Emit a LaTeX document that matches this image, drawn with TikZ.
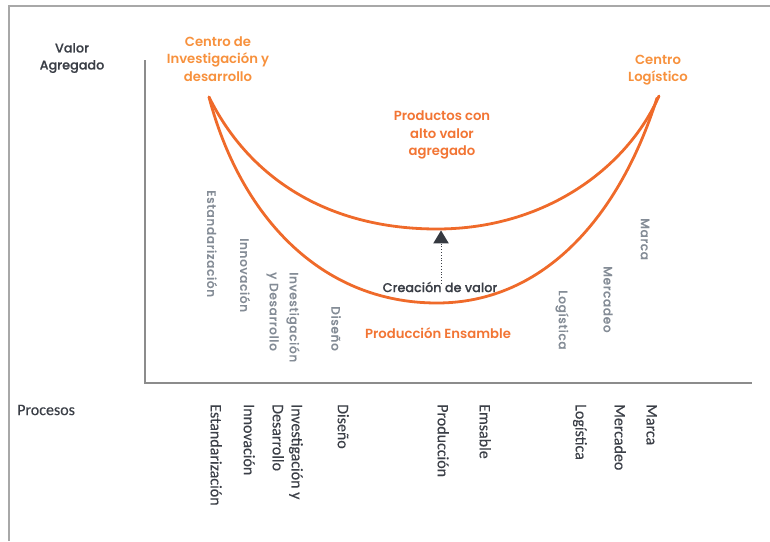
\documentclass[tikz,border=0pt]{standalone}
\usepackage{fontspec}
\setmainfont{Poppins}[UprightFont={* Medium}, BoldFont={* SemiBold}]
\newfontfamily\calib{Carlito}
\usetikzlibrary{shapes.geometric}
\definecolor{curveor}{HTML}{EF6A2A}
\definecolor{lightor}{HTML}{F7913D}
\definecolor{midor}{HTML}{F27534}
\definecolor{greylab}{HTML}{848C96}
\definecolor{darktxt}{HTML}{3B3F47}
\definecolor{framegrey}{HTML}{A8A8A8}
\definecolor{axisgrey}{HTML}{8C8C8C}
\tikzset{
  orlab/.style={font=\fontsize{13.2}{17.5}\selectfont\bfseries, text=lightor, align=center, inner sep=0pt},
  midlab/.style={font=\fontsize{13.2}{17.5}\selectfont\bfseries, text=midor, align=center, inner sep=0pt},
  axlab/.style={font=\fontsize{12.8}{17}\selectfont\addfontfeature{FakeBold=0.3}, text=darktxt, align=center, inner sep=0pt},
  glab/.style={font=\fontsize{12.2}{20}\selectfont\addfontfeature{LetterSpace=5,FakeBold=0.5}, text=greylab, rotate=-90, anchor=west, align=left, inner sep=0pt},
  blab/.style={font=\calib\fontsize{16}{19}\selectfont\addfontfeature{FakeBold=0.3}, text=darktxt, rotate=-90, anchor=north west, align=left, inner sep=0pt},
  curve/.style={draw=curveor, line width=2.8pt, line cap=round},
  framel/.style={draw=framegrey, line width=2pt},
  axisl/.style={draw=axisgrey, line width=1.5pt},
}
\begin{document}
\begin{tikzpicture}[x=1pt,y=-1pt]
\useasboundingbox (0,0) rectangle (770,541);
% frame
\coordinate (fbl) at (9,541);
\coordinate (ftl) at (9,5.5);
\coordinate (ftr) at (770,5.5);
\draw[framel] (fbl) -- (ftl) -- (ftr);
% axes
\coordinate (ytop) at (145,60);
\coordinate (orig) at (145,383);
\coordinate (xend) at (752,383);
\draw[axisl] (ytop) -- (orig) -- (xend);
% curve points
\coordinate (L) at (209,97);
\coordinate (R) at (659,96);
\coordinate (Rl) at (657,98);
\coordinate (umin) at (437,229);
\coordinate (lmin) at (437,303);
\draw[curve] (L) .. controls (250,180) and (330,229) .. (umin)
                 .. controls (545,229) and (627,168) .. (R);
\draw[curve] (L) .. controls (240,215) and (320,303) .. (lmin)
                 .. controls (545,303) and (620,215) .. (Rl);
% top labels
\node[axlab] (valor) at (72,58) {Valor\\Agregado};
\node[orlab] (cid) at (218,59) {Centro de\\Investigación y\\desarrollo};
\node[orlab] (clog) at (658,70) {Centro\\Logístico};
\node[midlab] (prod) at (442,135) {Productos con\\alto valor\\agregado};
\node[axlab, font=\fontsize{12.8}{14}\selectfont\addfontfeature{FakeBold=0.3}] (crea) at (440,287) {Creación de valor};
\node[midlab] (pens) at (438,333) {Producción Ensamble};
% arrow
\node[isosceles triangle, shape border rotate=90, fill=darktxt!90!black, draw=none,
      isosceles triangle apex angle=62, minimum height=13pt, inner sep=0pt] (tri) at (441,239) {};
\draw[dotted, line width=0.8pt, darktxt] ([yshift=-2pt]tri.south |- crea.north) -- ([yshift=2pt]tri.south);
% grey labels in plot
\node[glab] (g1) at (212,190) {Estandarización};
\node[glab] (g2) at (245,238) {Innovación};
\node[glab] (g3) at (283,272) {Investigación\\y Desarrollo};
\node[glab] (g4) at (336,306) {Diseño};
\node[glab] (g5) at (562,290) {Logística};
\node[glab] (g6) at (608,266) {Mercadeo};
\node[glab] (g7) at (645,218) {Marca};
% bottom labels
\node[axlab, font=\calib\fontsize{16}{19}\selectfont\addfontfeature{FakeBold=0.3}, anchor=west] (proc) at (17,410) {Procesos};
\node[blab] (b1) at (222,404) {Estandarización};
\node[blab] (b2) at (255,404) {Innovación};
\node[blab] (b3) at (303,404) {Investigación y\\Desarrollo};
\node[blab] (b4) at (349,404) {Diseño};
\node[blab] (b5) at (449,404) {Producción};
\node[blab] (b6) at (491,404) {Emsable};
\node[blab] (b7) at (587,404) {Logística};
\node[blab] (b8) at (626,404) {Mercadeo};
\node[blab] (b9) at (657,404) {Marca};
\end{tikzpicture}
\end{document}
